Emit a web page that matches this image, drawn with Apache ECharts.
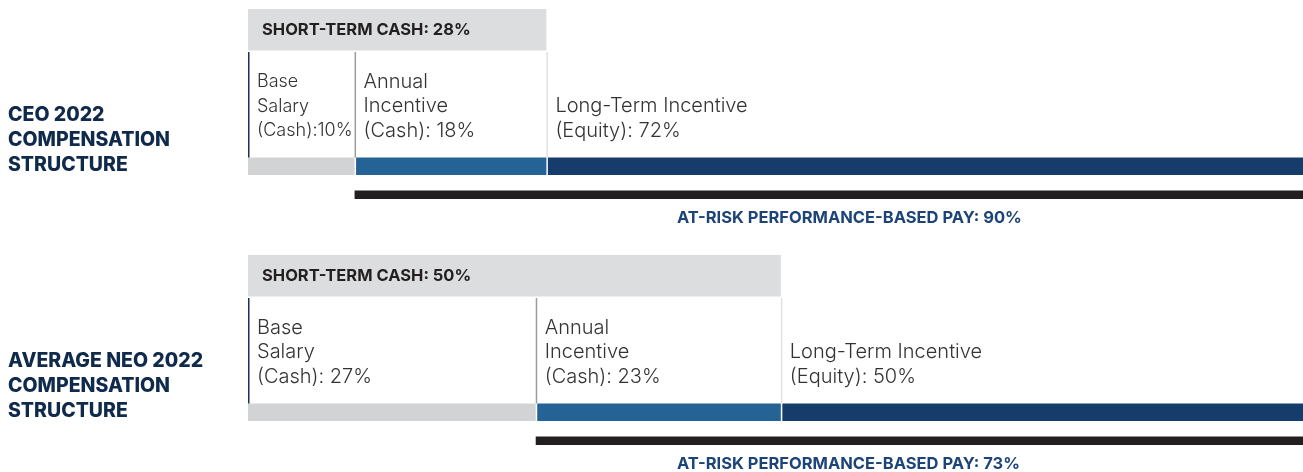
<!DOCTYPE html>
<html>
<head>
<meta charset="utf-8">
<title>Compensation Structure</title>
<script src="https://cdn.jsdelivr.net/npm/echarts@6/dist/echarts.min.js"></script>
<style>
html, body { margin: 0; padding: 0; background: #fff; }
#chart { width: 1303px; height: 472px; }
</style>
</head>
<body>
<div id="chart"></div>
<script>
// chart values
var groups = ['CEO 2022\nCOMPENSATION\nSTRUCTURE', 'AVERAGE NEO 2022\nCOMPENSATION\nSTRUCTURE'];
var baseSalary = [10, 27];
var annualIncentive = [18, 23];
var longTermIncentive = [72, 50];
var shortTermCash = [28, 50];
var atRiskPay = [90, 73];
var componentNames = ['Base\nSalary\n(Cash): ', 'Annual\nIncentive\n(Cash): ', 'Long-Term Incentive\n(Equity): '];

var gridTops = [9, 255];
var barColors = ['#d1d3d4', '#256296', '#163c6c'];
var dividerColors = ['#1c3158', '#9b9b9b', '#e2e2e2'];
var textFont = 'Inter, "Noto Sans", sans-serif';

var my_chart = echarts.init(document.getElementById('chart'));
var measure_ctx = document.createElement('canvas').getContext('2d');

function widest(text, font)
{
	measure_ctx.font = font;
	var w = 0;
	var lines = text.split('\n');
	for (var i = 0; i < lines.length; ++i)
		w = Math.max(w, measure_ctx.measureText(lines[i]).width);
	return w;
}

// squeeze a cell label into its cell: drop the space after the colon, then shrink
function fit_label(text, maxWidth, size)
{
	var font = '300 ' + size + 'px ' + textFont;
	if (widest(text, font) <= maxWidth)
		return { text: text, size: size };
	var tight = text.replace(': ', ':');
	var w = widest(tight, font);
	if (w <= maxWidth)
		return { text: tight, size: size };
	return { text: tight, size: Math.floor(size * maxWidth / w * 2) / 2 };
}

function build_items(i)
{
	var b = baseSalary[i], a = annualIncentive[i], l = longTermIncentive[i];
	var items = [];
	var texts = [];
	// header (short-term cash)
	items.push([0, shortTermCash[i], 0]);
	texts.push('SHORT-TERM CASH: ' + shortTermCash[i] + '%');
	// components
	var parts = [b, a, l];
	var pos = 0;
	for (var k = 0; k < parts.length; ++k) {
		items.push([pos, pos + parts[k], k + 1]);
		texts.push(componentNames[k] + parts[k] + '%');
		pos += parts[k];
	}
	// at risk bar
	items.push([100 - atRiskPay[i], 100, 4]);
	texts.push('AT-RISK PERFORMANCE-BASED PAY: ' + atRiskPay[i] + '%');
	return { items: items, texts: texts };
}

function make_render(texts)
{
	return function (params, api) {
		var cs = params.coordSys;
		var top = cs.y;
		var x0 = api.coord([api.value(0), 0])[0];
		var x1 = api.coord([api.value(1), 0])[0];
		var kind = api.value(2);
		var txt = texts[params.dataIndex];

		if (kind === 0) {
			return {
				type: 'group',
				children: [
					{ type: 'rect', shape: { x: x0, y: top, width: x1 - x0, height: 41.5 }, style: { fill: '#dcdddf' } },
					{ type: 'text', style: { x: x0 + 14, y: top + 21, text: txt, fill: '#231f20',
						font: 'bold 16.5px ' + textFont, verticalAlign: 'middle' } }
				]
			};
		}
		if (kind === 4) {
			return {
				type: 'group',
				children: [
					{ type: 'rect', shape: { x: x0, y: top + 181.5, width: x1 - x0, height: 8.5 }, style: { fill: '#231f20' } },
					{ type: 'text', style: { x: cs.x + 429, y: top + 209, text: txt, fill: '#1d4479',
						font: 'bold 16.5px ' + textFont, verticalAlign: 'middle' } }
				]
			};
		}
		var c = kind - 1;
		var gap = c > 0 ? 1.5 : 0;
		var lab = fit_label(txt, Math.min(x1 - x0, cs.x + cs.width - x0) - 10, 20);
		return {
			type: 'group',
			children: [
				{ type: 'rect', shape: { x: x0 + gap, y: top + 148.5, width: x1 - x0 - gap, height: 17.5 }, style: { fill: barColors[c] } },
				{ type: 'line', shape: { x1: x0 + 0.75, y1: top + 43, x2: x0 + 0.75, y2: top + 148.5 },
					style: { stroke: dividerColors[c], lineWidth: 1.5 } },
				{ type: 'text', style: { x: x0 + 9, y: top + 134, text: lab.text, fill: '#333333',
					font: '300 ' + lab.size + 'px ' + textFont, lineHeight: 24.5, verticalAlign: 'bottom' } }
			]
		};
	};
}

var grids = [], xAxes = [], yAxes = [], series = [], graphics = [];
for (var i = 0; i < groups.length; ++i) {
	var built = build_items(i);
	grids.push({ left: 248, top: gridTops[i], right: 0, height: 215 });
	// the 100% end lies a little past the right edge of the picture
	xAxes.push({ type: 'value', min: 0, max: 99, show: false, gridIndex: i });
	yAxes.push({ type: 'value', min: 0, max: 1, show: false, gridIndex: i });
	series.push({
		type: 'custom',
		xAxisIndex: i,
		yAxisIndex: i,
		silent: true,
		clip: false,
		renderItem: make_render(built.texts),
		data: built.items
	});
	graphics.push({
		type: 'text',
		left: 8,
		top: gridTops[i] + 93.5,
		style: { text: groups[i], fill: '#102a4c', font: '800 19.5px ' + textFont, lineHeight: 25 }
	});
}

my_chart.setOption({
	animation: false,
	grid: grids,
	xAxis: xAxes,
	yAxis: yAxes,
	series: series,
	graphic: graphics
});
</script>
</body>
</html>
